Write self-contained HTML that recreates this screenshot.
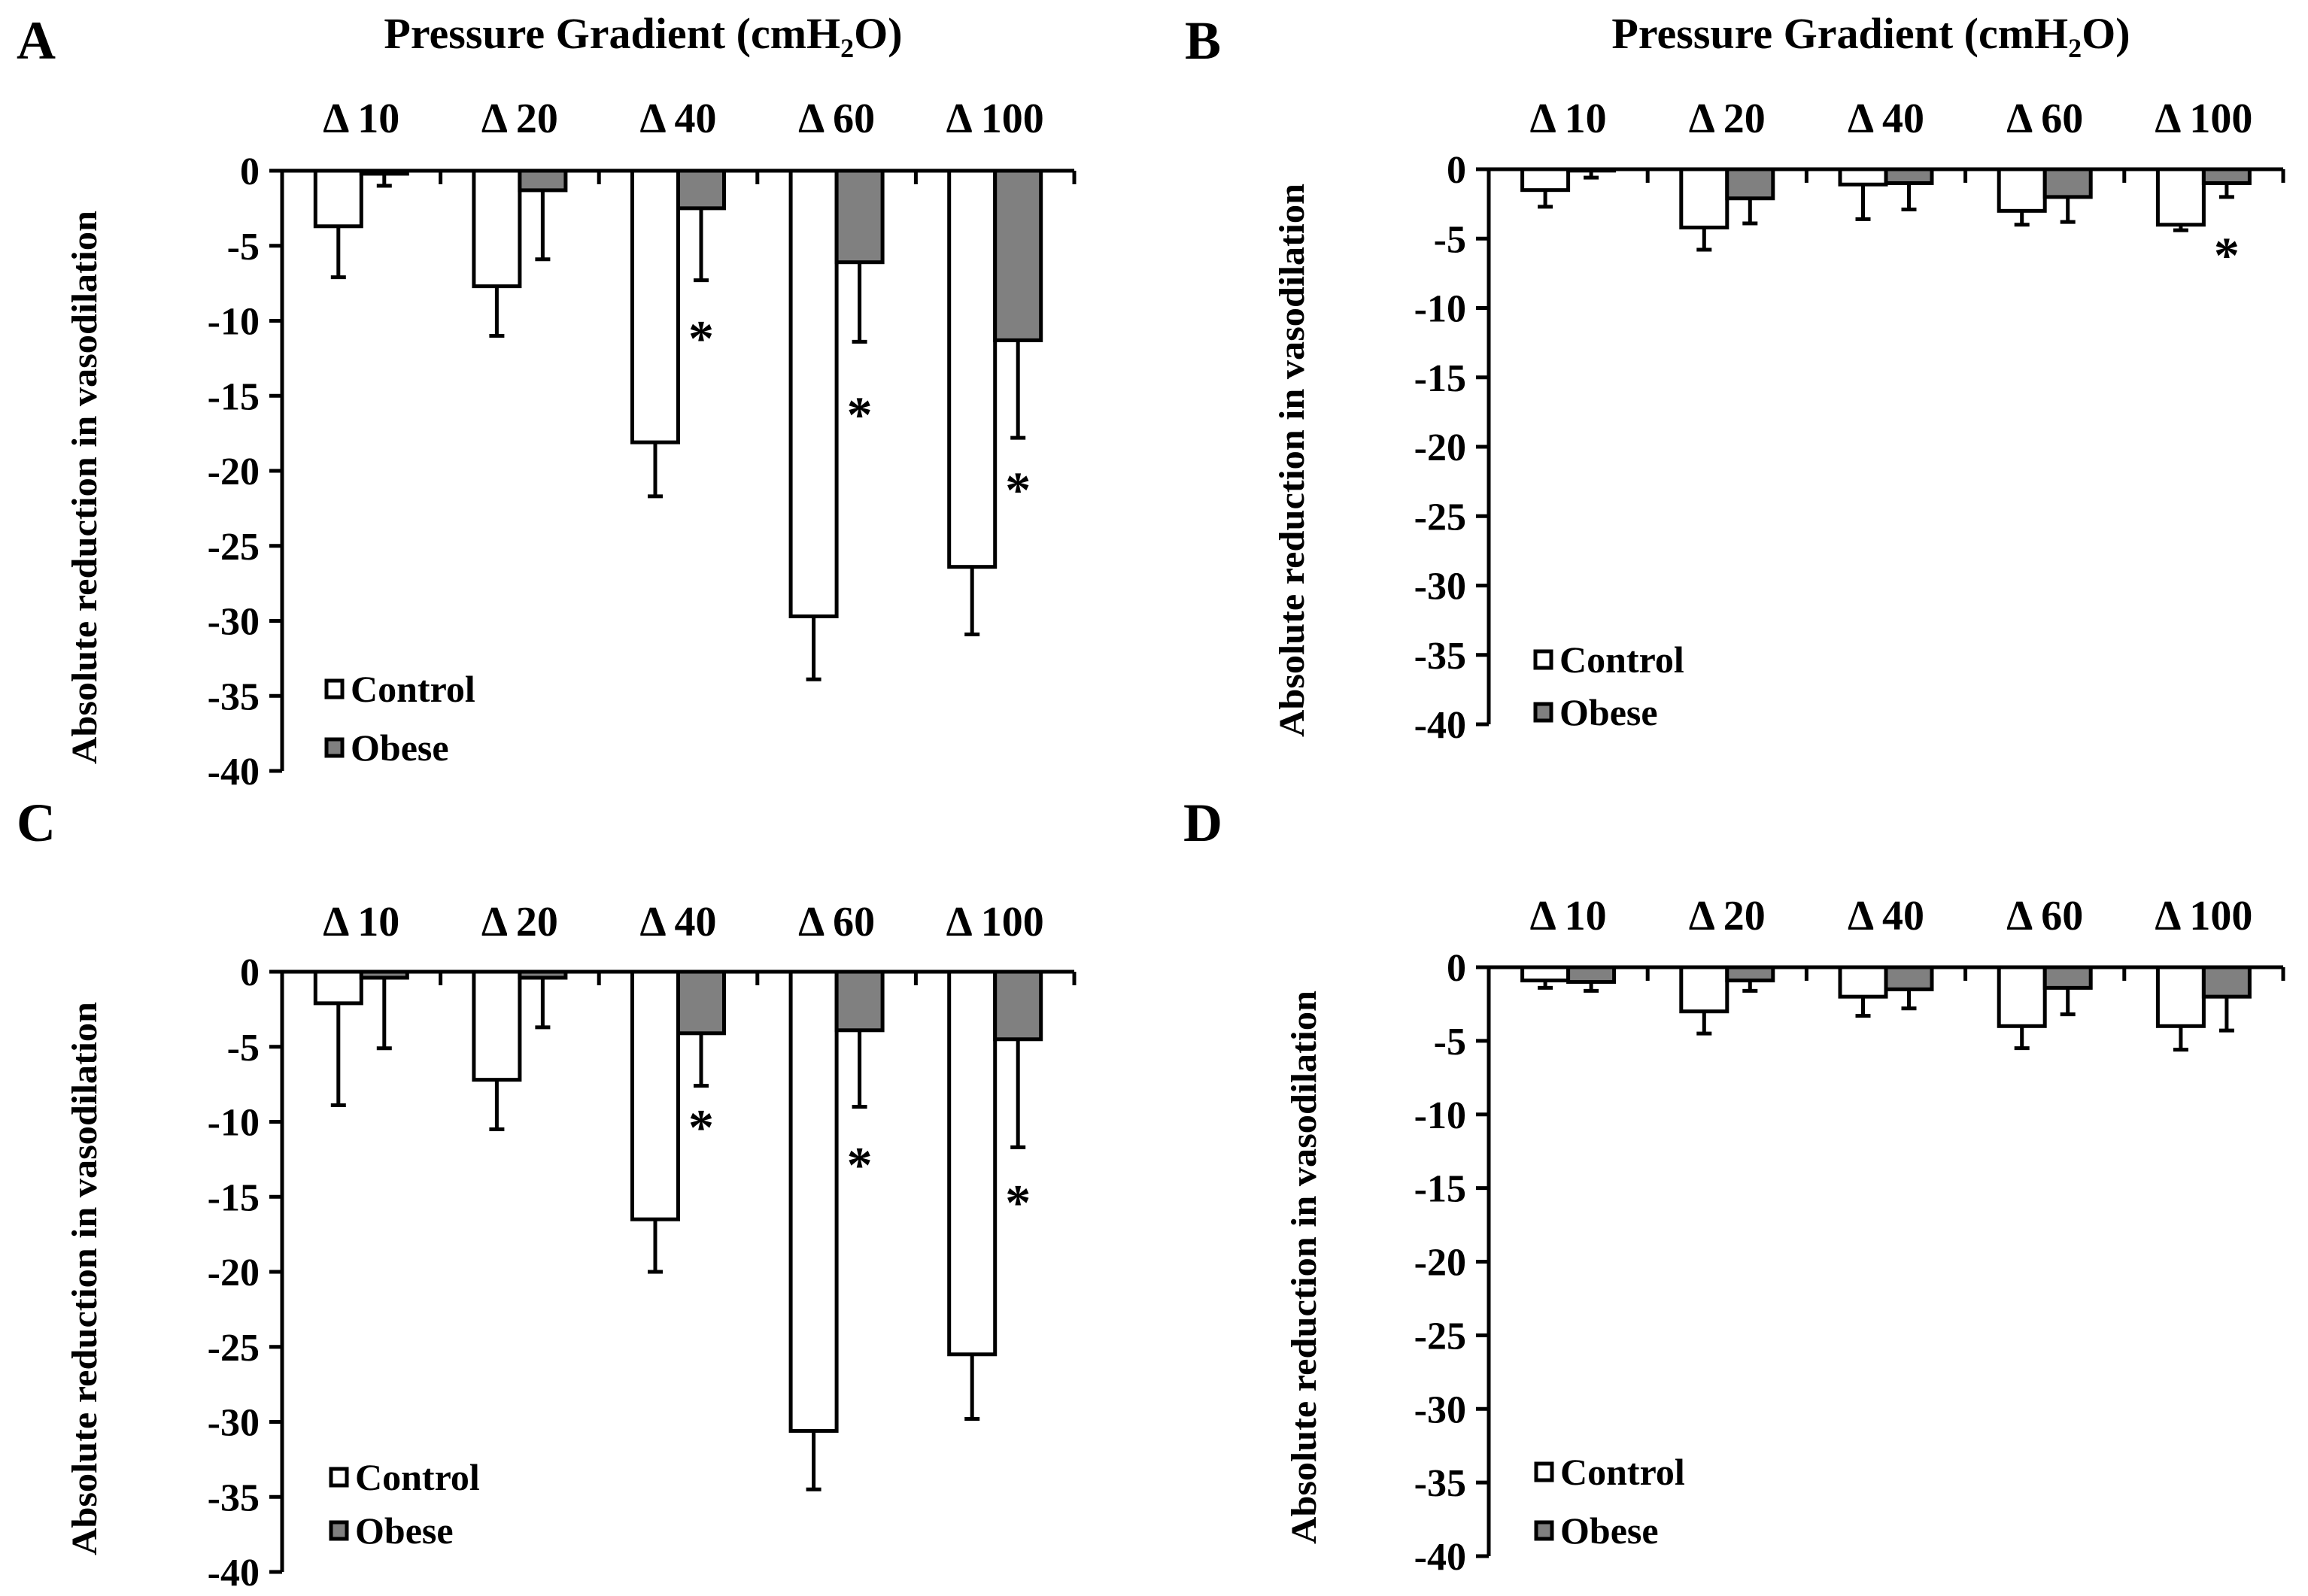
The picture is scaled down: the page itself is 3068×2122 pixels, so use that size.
<!DOCTYPE html>
<html><head><meta charset="utf-8"><style>
html,body{margin:0;padding:0;background:#fff;}
svg{display:block;font-family:"Liberation Serif",serif;font-weight:bold;}
</style></head><body>
<svg id="fig" width="3068" height="2122" viewBox="0 0 3068 2122" xmlns="http://www.w3.org/2000/svg"></svg>
<script>
const categories = ["Δ 10","Δ 20","Δ 40","Δ 60","Δ 100"];
const yTicks = [0,-5,-10,-15,-20,-25,-30,-35,-40];
const aControl = [-3.7,-7.7,-18.1,-29.7,-26.4];
const aControlErr = [3.4,3.3,3.6,4.2,4.5];
const aObese = [-0.2,-1.3,-2.5,-6.1,-11.3];
const aObeseErr = [0.8,4.6,4.8,5.3,6.5];
const aStars = [null,null,-10.7,-15.8,-20.8];
const bControl = [-1.5,-4.2,-1.1,-3.0,-4.0];
const bControlErr = [1.2,1.6,2.5,1.0,0.4];
const bObese = [-0.1,-2.1,-1.0,-2.0,-1.0];
const bObeseErr = [0.5,1.8,1.9,1.8,1.0];
const bStars = [null,null,null,null,-5.7];
const cControl = [-2.1,-7.2,-16.5,-30.6,-25.5];
const cControlErr = [6.8,3.3,3.5,3.9,4.3];
const cObese = [-0.4,-0.4,-4.1,-3.9,-4.5];
const cObeseErr = [4.7,3.3,3.5,5.1,7.2];
const cStars = [null,null,-9.9,-12.4,-14.9];
const dControl = [-0.9,-3.0,-2.0,-4.0,-4.0];
const dControlErr = [0.5,1.5,1.3,1.5,1.6];
const dObese = [-1.0,-0.9,-1.5,-1.4,-2.0];
const dObeseErr = [0.6,0.7,1.3,1.8,2.3];
const dStars = [null,null,null,null,null];

const NS = "http://www.w3.org/2000/svg";
const svg = document.getElementById("fig");
function mk(tag, attrs, parent, txt){
  const e = document.createElementNS(NS, tag);
  for (const k in attrs) e.setAttribute(k, attrs[k]);
  if (txt !== undefined) e.textContent = txt;
  (parent||svg).appendChild(e);
  return e;
}
const panels = [
  {id:"a", letter:"A", lx:48, ly:78, x0:375, x1:1428, y0:227, y40:1025, title:true, tx:855, ty:64, cy:176, ytx:117, yty:648, lgx:432, lgc:916, lgo:994, ctrl:aControl, ce:aControlErr, ob:aObese, oe:aObeseErr, st:aStars},
  {id:"b", letter:"B", lx:1599, ly:78, x0:1979, x1:3035, y0:225, y40:963, title:true, tx:2487, ty:64, cy:176, ytx:1722, yty:612, lgx:2039, lgc:877, lgo:947, ctrl:bControl, ce:bControlErr, ob:bObese, oe:bObeseErr, st:bStars},
  {id:"c", letter:"C", lx:48, ly:1118, x0:375, x1:1428, y0:1292, y40:2090, title:false, cy:1244, ytx:117, yty:1700, lgx:438, lgc:1964, lgo:2035, ctrl:cControl, ce:cControlErr, ob:cObese, oe:cObeseErr, st:cStars},
  {id:"d", letter:"D", lx:1599, ly:1118, x0:1979, x1:3035, y0:1286, y40:2069, title:false, cy:1236, ytx:1738, yty:1685, lgx:2040, lgc:1957, lgo:2035, ctrl:dControl, ce:dControlErr, ob:dObese, oe:dObeseErr, st:dStars}
];
panels.forEach(p => {
  const g = mk("g", {});
  
  
  const y = v => p.y0 + (p.y40 - p.y0) * (v / -40);
  const cw = (p.x1 - p.x0) / categories.length;
  const cx = i => p.x0 + cw * (i + 0.5);
  const bw = 61;
  const L = mk("text", {x:p.lx, y:p.ly, "font-size":72, "text-anchor":"middle"}, g, p.letter);
  
  
  if (p.title) {
    const t = mk("text", {x:p.tx, y:p.ty, "font-size":58, "text-anchor":"middle"}, g);
    
    
    mk("tspan", {}, t, "Pressure Gradient (cmH");
    mk("tspan", {"font-size":36, dy:12}, t, "2");
    mk("tspan", {dy:-12}, t, "O)");
  }
  categories.forEach((c, i) => {
    const t = mk("text", {x:cx(i), y:p.cy, "font-size":56, "text-anchor":"middle"}, g, c);
    
    
  });
  const yt = mk("text", {x:0, y:0, "font-size":48, "text-anchor":"middle", textLength:736, lengthAdjust:"spacingAndGlyphs", transform:`translate(${p.ytx},${p.yty}) rotate(-90)`, "dominant-baseline":"middle"}, g, "Absolute reduction in vasodilation");
  
  
  yTicks.forEach(v => {
    const l = mk("line", {x1:p.x0-17, x2:p.x0, y1:y(v), y2:y(v), stroke:"#000", "stroke-width":5}, g);
    
    
    const t = mk("text", {x:p.x0-30, y:y(v)+18, "font-size":52, "text-anchor":"end"}, g, String(v));
    
    
  });
  const drawBar = (v, e, x, fill, nm) => {
    const r = mk("rect", {x:x, y:p.y0, width:bw, height:Math.max(0, y(v)-p.y0), fill:fill, stroke:"#000", "stroke-width":5}, g);
    
    
    const ex = x + bw/2;
    const el = mk("path", {d:`M${ex},${y(v)} V${y(v-e)} M${ex-10},${y(v-e)} H${ex+10}`, stroke:"#000", "stroke-width":5, fill:"none"}, g);
    
    
  };
  categories.forEach((c, i) => {
    drawBar(p.ctrl[i], p.ce[i], cx(i) - bw, "#fff", "control-bar");
    drawBar(p.ob[i], p.oe[i], cx(i), "#808080", "obese-bar");
    if (p.st[i] !== null) {
      const s = mk("text", {x:cx(i)+bw/2, y:y(p.st[i])+32, "font-size":68, "text-anchor":"middle"}, g, "*");
      
      
    }
  });
  const ax = mk("path", {d:`M${p.x0},${y(-40)} V${p.y0} H${p.x1}`, stroke:"#000", "stroke-width":5, fill:"none"}, g);
  
  
  mk("line", {x1:p.x0-17, x2:p.x0, y1:p.y0, y2:p.y0, stroke:"#000", "stroke-width":5}, g);
  for (let k = 1; k <= categories.length; k++) {
    const xx = p.x0 + cw * k;
    const l = mk("line", {x1:xx, x2:xx, y1:p.y0, y2:p.y0+18, stroke:"#000", "stroke-width":5}, g);
    
    
  }
  const lg = mk("g", {}, g);
  
  
  [[p.lgc,"#fff","Control"],[p.lgo,"#808080","Obese"]].forEach(([ly, f, name]) => {
    const e = mk("g", {}, lg);
    
    
    mk("rect", {x:p.lgx+2, y:ly-11, width:21, height:22, fill:f, stroke:"#000", "stroke-width":5}, e);
    mk("text", {x:p.lgx+34, y:ly+17, "font-size":50}, e, name);
  });
});
</script>
</body></html>
